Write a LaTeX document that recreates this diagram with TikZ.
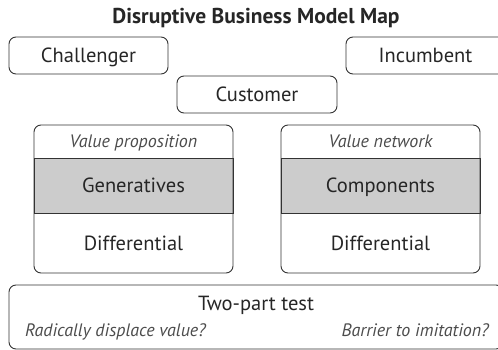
\documentclass[tikz,border=0pt]{standalone}
\usepackage{fontspec}
\setmainfont{PT Sans}
\usetikzlibrary{calc}

\begin{document}
\begin{tikzpicture}[x=1pt,y=-1pt]

            \tikzset{
              box/.style={draw=black!80, rounded corners=7pt, line width=0.9pt, inner sep=0pt,
                text height=14pt, text depth=0pt, text=black!85, font=\fontsize{20.5}{22}\selectfont},
              band/.style={draw=black!80, line width=0.9pt, inner sep=0pt, fill=black!20,
                text height=14pt, text depth=0pt, text=black!85, font=\fontsize{20.5}{22}\selectfont},
              plain/.style={inner sep=0pt, text height=14pt, text depth=0pt, text=black!85,
                font=\fontsize{20.5}{22}\selectfont},
              note/.style={inner sep=0pt, text height=12pt, text depth=0pt, text=black!70,
                font=\itshape\fontsize{18}{20}\selectfont}
            }

            \useasboundingbox (0,0) rectangle (498,350);

            \node[inner sep=0pt, text height=15pt, text depth=0pt, text=black!85,
              font=\bfseries\fontsize{21.5}{24}\selectfont] (title) at (256,16.5) {Disruptive Business Model Map};

            \node[box, minimum width=159pt, minimum height=37pt] (challenger) at (88.5,55.5) {Challenger};
            \node[box, minimum width=159pt, minimum height=37pt] (incumbent) at (425.5,55.5) {Incumbent};
            \node[box, minimum width=160pt, minimum height=37pt] (customer) at (257,94.5) {Customer};

            \node[band, minimum width=199pt, minimum height=55pt] (generatives) at (133.5,185.5) {Generatives};
            \node[box, minimum width=199pt, minimum height=148pt] (proposition) at (133.5,199) {};
            \node[note] (propname) at (133.5,141.5) {Value proposition};
            \node[plain] (propdiff) at (133.5,243) {Differential};

            \node[band, minimum width=199pt, minimum height=55pt] (components) at (380.5,185.5) {Components};
            \node[box, minimum width=199pt, minimum height=148pt] (network) at (380.5,199) {};
            \node[note] (netname) at (380.5,141.5) {Value network};
            \node[plain] (netdiff) at (380.5,243) {Differential};

            \node[box, minimum width=494pt, minimum height=64pt] (test) at (256,317) {};
            \node[plain] (twopart) at (256,303.5) {Two-part test};
            \node[note, anchor=west] (displace) at (25,330.5) {Radically displace value?};
            \node[note, anchor=east] (barrier) at (489,330.5) {Barrier to imitation?};

          \end{tikzpicture}
\end{document}
